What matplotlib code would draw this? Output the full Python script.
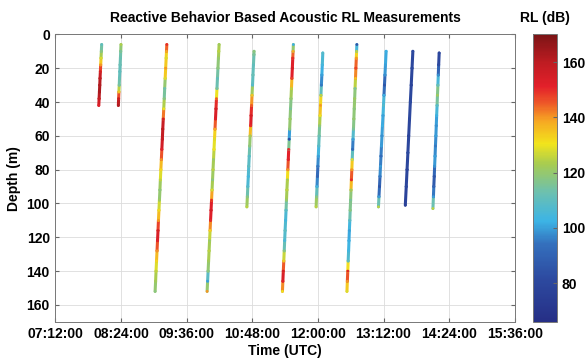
import numpy as np
import matplotlib
matplotlib.use('Agg')
import matplotlib.pyplot as plt
from matplotlib.collections import LineCollection
from matplotlib.colors import LinearSegmentedColormap

plt.rcParams['font.family'] = ['Liberation Sans', 'DejaVu Sans']
plt.rcParams['font.weight'] = 'bold'

# each dive: time (decimal hours UTC), depth (m), received level (dB)
d1_t = [7.993, 7.999, 8.005, 8.011, 8.016, 8.022, 8.028, 8.034, 8.040, 8.046]
d1_z = [42, 38, 34, 30, 26, 22, 18, 14, 10, 6]
d1_rl = [152, 158, 163, 162, 160, 155, 140, 128, 118, 110]

d2_t = [8.351, 8.356, 8.361, 8.367, 8.372, 8.378, 8.383, 8.389, 8.394, 8.399]
d2_z = [42, 38, 34, 30, 26, 22, 18, 14, 10, 6]
d2_rl = [162, 158, 135, 115, 112, 110, 112, 112, 115, 124]

deep_z = [152, 146, 140, 134, 128, 122, 116, 110, 104, 98, 92, 86, 80,
          74, 68, 62, 56, 50, 44, 38, 32, 26, 20, 14, 10, 6]

d3_t = [9.023, 9.032, 9.040, 9.049, 9.058, 9.067, 9.076, 9.084, 9.093,
        9.102, 9.111, 9.119, 9.128, 9.137, 9.146, 9.155, 9.163, 9.172,
        9.181, 9.190, 9.198, 9.207, 9.216, 9.225, 9.231, 9.237]
d3_rl = [118, 122, 125, 132, 140, 152, 155, 140, 132, 122, 118, 125, 132,
         140, 152, 158, 160, 155, 130, 118, 112, 128, 140, 128, 138, 150]

d4_t = [9.974, 9.983, 9.992, 10.001, 10.010, 10.019, 10.028, 10.037,
        10.046, 10.055, 10.064, 10.073, 10.082, 10.091, 10.100, 10.109,
        10.118, 10.127, 10.136, 10.145, 10.154, 10.163, 10.172, 10.181,
        10.187, 10.193]
d4_rl = [140, 100, 118, 122, 125, 120, 132, 150, 155, 150, 128, 118, 125,
         120, 130, 128, 138, 152, 155, 145, 115, 110, 118, 120, 125, 122]

d5_t = [10.701, 10.710, 10.718, 10.727, 10.735, 10.744, 10.753, 10.761,
        10.770, 10.778, 10.787, 10.795, 10.804, 10.812, 10.821, 10.830,
        10.832]
d5_z = [102, 96, 90, 84, 78, 72, 66, 60, 54, 48, 42, 36, 30, 24, 18, 12, 10]
d5_rl = [125, 118, 108, 104, 110, 108, 118, 122, 150, 155, 145, 135, 108,
         112, 110, 115, 118]

d6_t = [11.351, 11.359, 11.367, 11.376, 11.384, 11.392, 11.400, 11.409,
        11.417, 11.425, 11.433, 11.442, 11.450, 11.458, 11.466, 11.475,
        11.483, 11.491, 11.499, 11.508, 11.516, 11.524, 11.532, 11.540,
        11.546, 11.551]
d6_rl = [130, 152, 155, 135, 118, 105, 110, 104, 108, 120, 125, 122, 140,
         152, 150, 82, 118, 122, 115, 120, 125, 148, 155, 150, 138, 102]

d7_t = [11.967, 11.975, 11.983, 11.991, 11.999, 12.007, 12.015, 12.023,
        12.031, 12.039, 12.047, 12.055, 12.063, 12.072, 12.080, 12.089]
d7_z = [102, 96, 90, 84, 78, 72, 66, 60, 54, 48, 42, 36, 30, 24, 18, 11]
d7_rl = [125, 118, 104, 90, 95, 100, 108, 112, 118, 130, 140, 125, 95,
         100, 104, 108]

d8_t = [12.531, 12.538, 12.546, 12.553, 12.561, 12.568, 12.575, 12.583,
        12.590, 12.598, 12.605, 12.612, 12.620, 12.627, 12.635, 12.642,
        12.650, 12.657, 12.664, 12.672, 12.679, 12.687, 12.694, 12.702,
        12.707, 12.712]
d8_rl = [128, 140, 152, 110, 104, 102, 100, 108, 118, 115, 122, 150, 140,
         128, 92, 100, 115, 120, 118, 122, 115, 135, 148, 140, 125, 85]

d9_t = [13.107, 13.116, 13.126, 13.135, 13.144, 13.153, 13.162, 13.171,
        13.180, 13.190, 13.199, 13.208, 13.217, 13.226, 13.235, 13.247]
d9_z = [102, 96, 90, 84, 78, 72, 66, 60, 54, 48, 42, 36, 30, 24, 18, 10]
d9_rl = [125, 100, 85, 95, 100, 92, 100, 98, 102, 100, 108, 102, 85, 98,
         100, 102]

d10_t = [13.598, 13.615, 13.630, 13.645, 13.660, 13.675, 13.690, 13.706,
         13.721, 13.736]
d10_z = [101, 90, 80, 70, 60, 50, 40, 30, 20, 10]
d10_rl = [76, 80, 78, 82, 78, 80, 82, 78, 80, 82]

d11_t = [14.103, 14.112, 14.119, 14.127, 14.134, 14.142, 14.149, 14.157,
         14.164, 14.171, 14.179, 14.186, 14.194, 14.201, 14.208, 14.217]
d11_z = [103, 96, 90, 84, 78, 72, 66, 60, 54, 48, 42, 36, 30, 24, 18, 11]
d11_rl = [125, 100, 90, 85, 98, 100, 95, 100, 98, 102, 108, 122, 112, 98,
          82, 80]

dives = [(d1_t, d1_z, d1_rl), (d2_t, d2_z, d2_rl), (d3_t, deep_z, d3_rl),
         (d4_t, deep_z, d4_rl), (d5_t, d5_z, d5_rl), (d6_t, deep_z, d6_rl),
         (d7_t, d7_z, d7_rl), (d8_t, deep_z, d8_rl), (d9_t, d9_z, d9_rl),
         (d10_t, d10_z, d10_rl), (d11_t, d11_z, d11_rl)]

x_ticks = [7.2, 8.4, 9.6, 10.8, 12.0, 13.2, 14.4, 15.6]
x_labels = ['07:12:00', '08:24:00', '09:36:00', '10:48:00', '12:00:00',
            '13:12:00', '14:24:00', '15:36:00']
y_ticks = [0, 20, 40, 60, 80, 100, 120, 140, 160]
cb_ticks = [80, 100, 120, 140, 160]

# washed-out jet, as printed in the figure
cmap = LinearSegmentedColormap.from_list('softjet', [
    (0.00, '#262f86'), (0.15, '#2d4aa0'), (0.27, '#3470bd'),
    (0.35, '#3cb4e6'), (0.45, '#6cc0b0'), (0.55, '#a8cc50'),
    (0.62, '#f2e41c'), (0.70, '#f6a623'), (0.76, '#ee5a28'),
    (0.82, '#e3202a'), (0.90, '#c01c22'), (1.00, '#7c1416')])
vmin, vmax = 66, 170
norm = plt.Normalize(vmin, vmax)

fig = plt.figure(figsize=(5.87, 3.62), dpi=100)
ax = fig.add_axes([0.0944, 0.111, 0.7826, 0.794])
cax = fig.add_axes([0.9075, 0.111, 0.041, 0.794])

for t, z, rl in dives:
    pts = np.column_stack([t, z])
    segs = np.stack([pts[:-1], pts[1:]], axis=1)
    rl = np.asarray(rl, float)
    lc = LineCollection(segs, cmap=cmap, norm=norm, linewidths=2.2,
                        capstyle='round', zorder=3)
    lc.set_array((rl[:-1] + rl[1:]) / 2)
    ax.add_collection(lc)
    ax.scatter(t, z, c=rl, cmap=cmap, norm=norm, s=4, linewidths=0, zorder=4)

ax.set_xlim(7.2, 15.6)
ax.set_ylim(170, 0)
ax.set_xticks(x_ticks)
ax.set_xticklabels(x_labels)
ax.set_yticks(y_ticks)
ax.grid(True, color='#dcdcdc', linewidth=0.6)
ax.set_axisbelow(True)
ax.tick_params(direction='in', top=True, right=True, length=3,
               labelsize=10, color='#666666', pad=4)
for s in ax.spines.values():
    s.set_color('#777777')
    s.set_linewidth(0.7)

ax.set_title('Reactive Behavior Based Acoustic RL Measurements',
             fontsize=10, fontweight='bold', pad=9)
ax.set_xlabel('Time (UTC)', fontsize=10, fontweight='bold', labelpad=2)
ax.set_ylabel('Depth (m)', fontsize=10, fontweight='bold', labelpad=4)

sm = plt.cm.ScalarMappable(norm=norm, cmap=cmap)
cb = fig.colorbar(sm, cax=cax)
cb.set_ticks(cb_ticks)
cb.ax.tick_params(direction='in', length=3, labelsize=10, color='#666666')
cb.outline.set_edgecolor('#777777')
cb.outline.set_linewidth(0.7)
cb.ax.set_title('RL (dB)', fontsize=10, fontweight='bold', pad=9)

fig.savefig('out.png', dpi=100)
